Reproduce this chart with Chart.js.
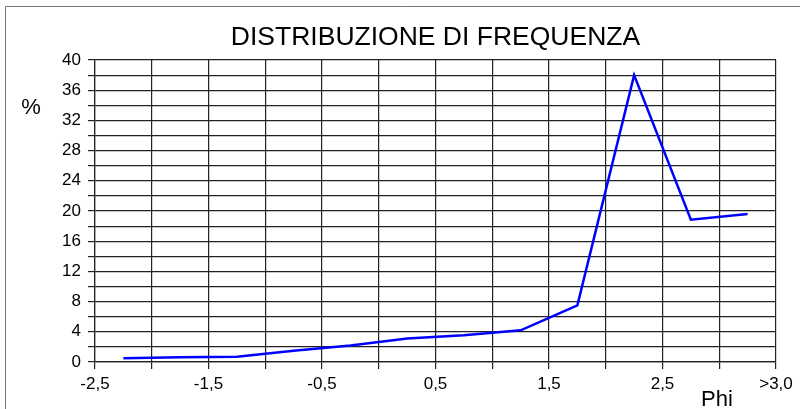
<!DOCTYPE html>
<html>
<head>
<meta charset="utf-8">
<script src="https://cdn.jsdelivr.net/npm/chart.js@4"></script>
<style>
    body { margin: 0; background: #fff; }
    #wrap { width: 800px; height: 409px; }
</style>
</head>
<body>
<div id="wrap"><canvas id="freqChart" width="800" height="409"></canvas></div>
<script>
// Data
const phiValues = [-2.25, -1.75, -1.25, -0.75, -0.25, 0.25, 0.75, 1.25, 1.75, 2.25, 2.75, 3.25];
const percentValues = [0.5, 0.63, 0.69, 1.5, 2.2, 3.1, 3.55, 4.2, 7.5, 38.0, 18.85, 19.6];
const xTickLabels = { '-2.5': '-2,5', '-1.5': '-1,5', '-0.5': '-0,5', '0.5': '0,5', '1.5': '1,5', '2.5': '2,5', '3.5': '>3,0' };
const chartTitle = 'DISTRIBUZIONE DI FREQUENZA';

const FONT = 'Liberation Sans, Arial, sans-serif';
const GRID = '#222';

// Title, axis names and outer frame
const decorations = {
    id: 'decorations',
    afterDraw(chart) {
        const ctx = chart.ctx;
        const area = chart.chartArea;
        ctx.save();
        ctx.strokeStyle = '#777';
        ctx.lineWidth = 1;
        ctx.beginPath();
        ctx.moveTo(5.5, 409);
        ctx.lineTo(5.5, 6.5);
        ctx.lineTo(800, 6.5);
        ctx.stroke();

        ctx.fillStyle = '#000';
        ctx.textBaseline = 'alphabetic';
        ctx.textAlign = 'center';
        ctx.font = '26.5px ' + FONT;
        ctx.fillText(chartTitle, (area.left + area.right) / 2, 45);

        ctx.font = '22px ' + FONT;
        ctx.fillText('%', 31, 114);
        ctx.fillText('Phi', 717, 406);
        ctx.restore();
    }
};

const ctx = document.getElementById('freqChart').getContext('2d');
new Chart(ctx, {
    type: 'line',
    data: {
        datasets: [{
            data: phiValues.map((x, i) => ({ x: x, y: percentValues[i] })),
            borderColor: '#0000ff',
            borderWidth: 2.5,
            pointRadius: 0,
            tension: 0,
            fill: false
        }]
    },
    options: {
        responsive: false,
        animation: false,
        layout: { padding: { left: 5, top: 60, right: 24, bottom: 0 } },
        plugins: {
            legend: { display: false },
            title: { display: false },
            tooltip: { enabled: false }
        },
        scales: {
            x: {
                type: 'linear',
                min: -2.5,
                max: 3.5,
                afterFit: s => { s.height = 47; },
                afterBuildTicks: s => {
                    s.ticks = [];
                    for (let i = 0; i <= 12; i++) s.ticks.push({ value: -2.5 + i * 0.5 });
                },
                grid: { color: GRID, lineWidth: 1.2, tickLength: 7, tickColor: GRID },
                border: { color: GRID, width: 1.2 },
                ticks: {
                    autoSkip: false,
                    maxRotation: 0,
                    padding: 5,
                    color: '#000',
                    font: { family: FONT, size: 17 },
                    callback: v => xTickLabels[String(Math.round(v * 10) / 10)] || ''
                }
            },
            y: {
                min: 0,
                max: 40,
                afterFit: s => { s.width = 90; },
                grid: { color: GRID, lineWidth: 1.2, tickLength: 7, tickColor: GRID },
                border: { color: GRID, width: 1.2 },
                ticks: {
                    stepSize: 2,
                    autoSkip: false,
                    padding: 7,
                    color: '#000',
                    font: { family: FONT, size: 17 },
                    callback: v => (v % 4 === 0 ? String(v) : '')
                }
            }
        }
    },
    plugins: [decorations]
});
</script>
</body>
</html>
